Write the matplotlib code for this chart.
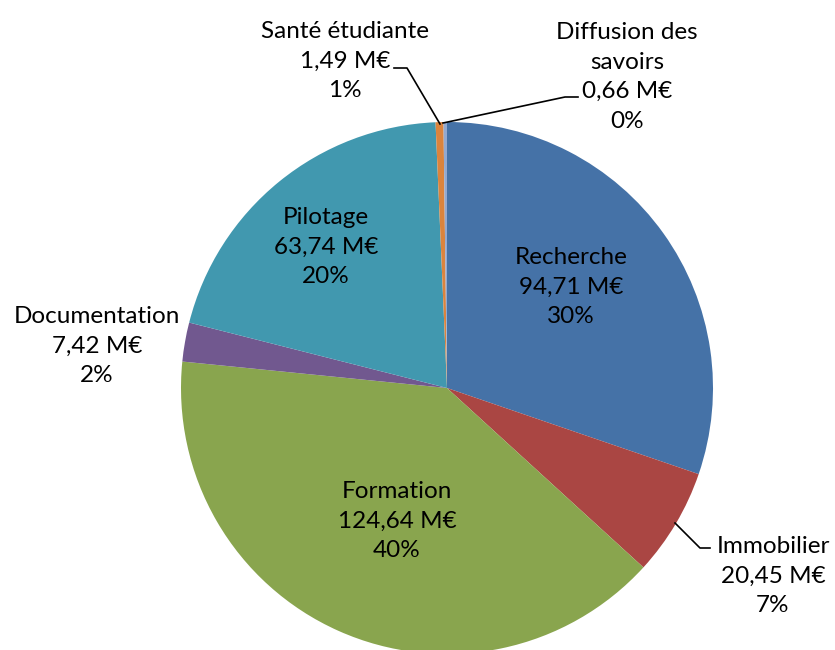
import numpy as np
import matplotlib
matplotlib.use("Agg")
import matplotlib.pyplot as plt

# budget par domaine (M€)
labels = ["Recherche", "Immobilier", "Formation", "Documentation",
          "Pilotage", "Santé étudiante", "Diffusion des\nsavoirs"]
values = [94.71, 20.45, 124.64, 7.42, 63.74, 1.49, 0.66]
percents = [30, 7, 40, 2, 20, 1, 0]
colors = ["#4572A7", "#AA4643", "#89A54E", "#71588F",
          "#4198AF", "#DB843D", "#93A9CF"]

plt.rcParams['font.family'] = ['Lato', 'DejaVu Sans']

W, H = 835, 650
cx, cy, R = 447, 388, 266

def px(x, y):
    # pixel position -> pie data coords (radius 1)
    return (x - cx) / R, (cy - y) / R

fig = plt.figure(figsize=(W / 100, H / 100), dpi=100)
ax = fig.add_axes([(cx - R) / W, (H - cy - R) / H, 2 * R / W, 2 * R / H])

ax.pie(values, colors=colors, startangle=90, counterclock=False,
       radius=1, wedgeprops=dict(linewidth=0))
ax.set_xlim(-1, 1)
ax.set_ylim(-1, 1)
ax.set_aspect('equal')
ax.axis('off')

# label centres in pixels
label_pos = [(571, 287), (773, 576), (397, 521), (97, 346),
             (326, 247), (345, 61), (627, 77)]
for lab, v, p, (x, y) in zip(labels, values, percents, label_pos):
    txt = f"{lab}\n{v:.2f}".replace('.', ',') + f" M€\n{p}%"
    tx, ty = px(x, y)
    ax.text(tx, ty, txt, ha='center', va='center', fontsize=17.5,
            linespacing=1.5, color='black')

# leader lines
leaders = [
    [(394, 68), (407, 68), (440, 124)],
    [(443, 123), (565, 97), (578, 97)],
    [(675, 523), (700, 548), (710, 548)],
]
for pts in leaders:
    d = np.array([px(x, y) for x, y in pts])
    ax.plot(d[:, 0], d[:, 1], color='black', lw=1.2, clip_on=False)

fig.savefig("out.png", dpi=100)
